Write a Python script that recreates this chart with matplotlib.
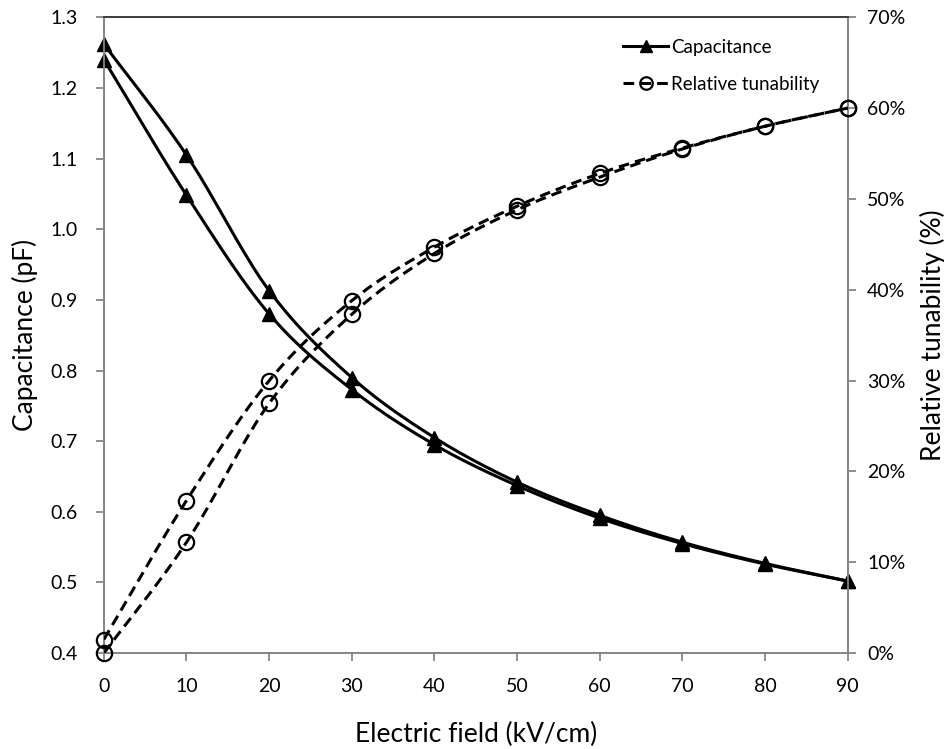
import numpy as np
import matplotlib.pyplot as plt
from matplotlib.ticker import PercentFormatter, MultipleLocator

plt.rcParams['font.family'] = ['Lato', 'DejaVu Sans']

field = [0, 10, 20, 30, 40, 50, 60, 70, 80, 90]

# two sweeps of capacitance (pF)
cap_a = [1.262, 1.105, 0.913, 0.790, 0.705, 0.642, 0.595, 0.557, 0.527, 0.502]
cap_b = [1.240, 1.048, 0.880, 0.773, 0.695, 0.637, 0.591, 0.555, 0.526, 0.502]

# relative tunability (fraction)
tun_a = [0.015, 0.168, 0.300, 0.388, 0.447, 0.492, 0.528, 0.556, 0.580, 0.600]
tun_b = [0.000, 0.122, 0.275, 0.373, 0.440, 0.488, 0.524, 0.555, 0.580, 0.600]


def smooth(x, y, n=20):
    # catmull-rom style path through the points, like excel's smoothed line
    x = np.asarray(x, float)
    y = np.asarray(y, float)
    px = np.concatenate([[2 * x[0] - x[1]], x, [2 * x[-1] - x[-2]]])
    py = np.concatenate([[2 * y[0] - y[1]], y, [2 * y[-1] - y[-2]]])
    xs, ys = [], []
    t = np.linspace(0, 1, n, endpoint=False)
    for i in range(1, len(px) - 2):
        for p, out in ((px, xs), (py, ys)):
            p0, p1, p2, p3 = p[i - 1], p[i], p[i + 1], p[i + 2]
            out.extend(0.5 * (2 * p1 + (-p0 + p2) * t
                              + (2 * p0 - 5 * p1 + 4 * p2 - p3) * t ** 2
                              + (-p0 + 3 * p1 - 3 * p2 + p3) * t ** 3))
    xs.append(x[-1])
    ys.append(y[-1])
    return np.array(xs), np.array(ys)


fig = plt.figure(figsize=(9.44, 7.49), dpi=100)
ax = fig.add_axes([0.110, 0.128, 0.788, 0.849])
ax2 = ax.twinx()

lw = 2.2
for c in (cap_a, cap_b):
    sx, sy = smooth(field, c)
    ax.plot(sx, sy, color='black', lw=lw, zorder=3)
    ax.plot(field, c, ls='none', marker='^', ms=10, color='black', zorder=4, clip_on=False)

for tn in (tun_a, tun_b):
    sx, sy = smooth(field, tn)
    ax2.plot(sx, sy, color='black', lw=lw, dashes=(3.5, 2), zorder=3)
    ax2.plot(field, tn, ls='none', marker='o', ms=11, mfc='none', mec='black', mew=1.6,
             zorder=4, clip_on=False)

ax.set_xlim(0, 90)
ax.set_ylim(0.4, 1.3)
ax2.set_ylim(0, 0.7)
ax.xaxis.set_major_locator(MultipleLocator(10))
ax.yaxis.set_major_locator(MultipleLocator(0.1))
ax.yaxis.set_major_formatter(plt.FormatStrFormatter('%.1f'))
ax2.yaxis.set_major_locator(MultipleLocator(0.1))
ax2.yaxis.set_major_formatter(PercentFormatter(1.0, decimals=0))

grey = '#868686'
for a in (ax, ax2):
    for s in ('left', 'right', 'bottom'):
        a.spines[s].set_color(grey)
        a.spines[s].set_linewidth(1.3)
    a.spines['top'].set_color('#404040')
    a.spines['top'].set_linewidth(1.3)
    a.tick_params(direction='out', length=6, width=1.3, color=grey, labelsize=14,
                  labelcolor='black')
ax.tick_params(axis='y', pad=13)
ax.tick_params(axis='x', pad=12)
ax2.tick_params(axis='y', pad=8)

ax.set_xlabel('Electric field (kV/cm)', fontsize=19, labelpad=19)
ax.set_ylabel('Capacitance (pF)', fontsize=19, labelpad=9)
ax2.set_ylabel('Relative tunability (%)', fontsize=19, labelpad=10)

h1, = ax2.plot([], [], color='black', lw=lw, marker='^', ms=8)
h2, = ax2.plot([], [], color='black', lw=lw, dashes=(3.5, 2), marker='o', ms=9,
               mfc='none', mec='black', mew=1.6)
leg = ax2.legend([h1, h2], ['Capacitance', 'Relative tunability'], loc='upper left',
                 bbox_to_anchor=(623 / 944, 1 - 39 / 749), bbox_transform=fig.transFigure,
                 frameon=False, fontsize=13.5, handlelength=2.4, handletextpad=0.15,
                 labelspacing=1.05, borderaxespad=0, borderpad=0)

fig.savefig('out.png', dpi=100)
